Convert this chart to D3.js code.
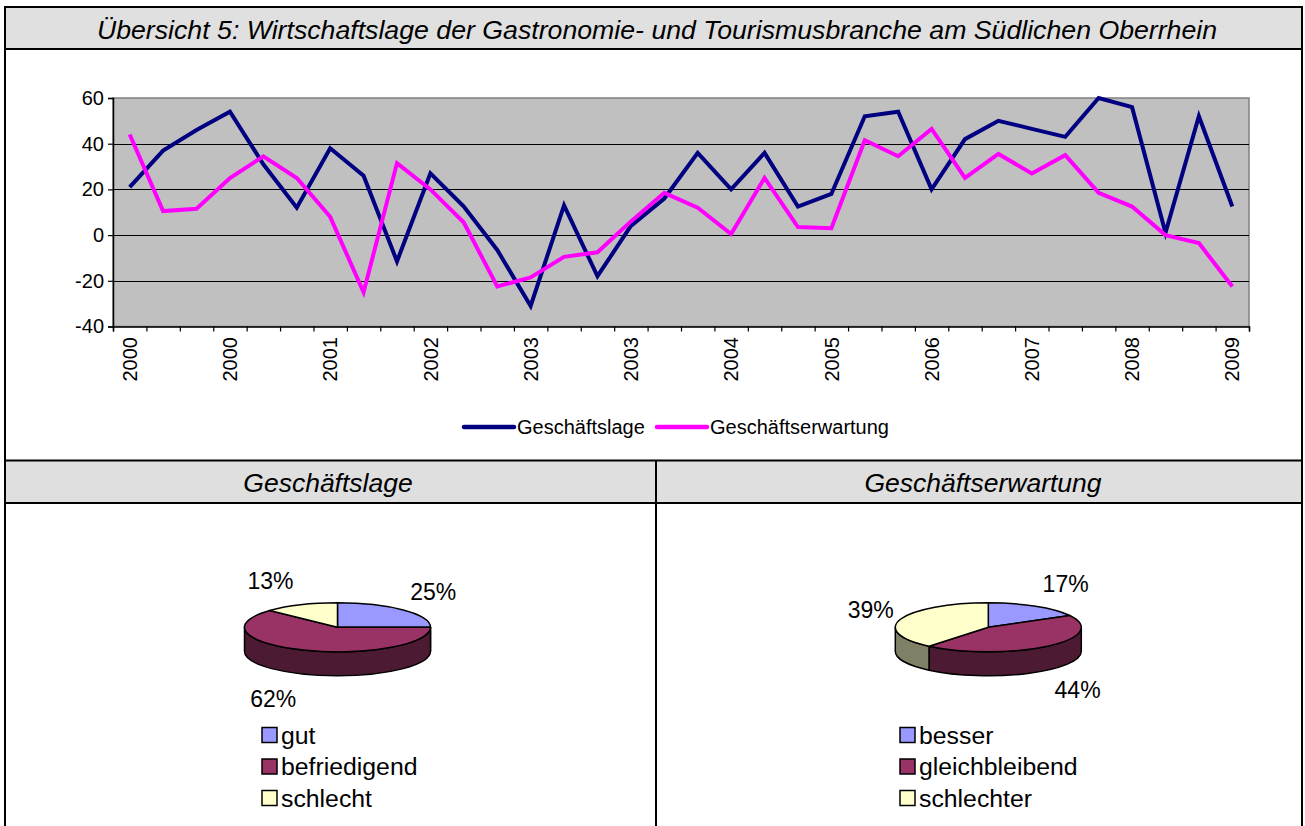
<!DOCTYPE html>
<html><head><meta charset="utf-8">
<script src="https://cdn.jsdelivr.net/npm/d3@7"></script>
<style>body{margin:0;background:#fff}svg{display:block;font-family:"Liberation Sans",Arial,sans-serif}</style>
</head><body><svg id="c" width="1305" height="826"></svg>
<script>
const title = "Übersicht 5: Wirtschaftslage der Gastronomie- und Tourismusbranche am Südlichen Oberrhein";
const categories = ["2000","2000","2000","2000","2000","2001","2001","2001","2002","2002","2002","2003","2003","2003","2003","2003","2004","2004","2004","2005","2005","2005","2006","2006","2006","2007","2007","2007","2008","2008","2008","2009","2009","2009"];
const geschaeftslage = [21,37,46,54,31,12,38,26,-11.5,27,12.5,-6.5,-31,13,-18,4,16,36,20,36,12.5,18,52,54,20,42,50,46.5,43,60,56,1,52,12.5];
const geschaeftserwartung = [44,10.5,11.5,25,34.5,25,8,-25,31.5,20,5.5,-22.5,-18.5,-9.5,-7.5,6,18.5,12,0.5,25,3.5,3,41.5,34.5,46.5,25,35.5,27,35,18.5,12.5,0,-3.5,-22.5];
const yTicks = [-40,-20,0,20,40,60];
const seriesNames = ["Geschäftslage","Geschäftserwartung"];
const seriesColors = ["#000080","#ff00ff"];

const pieTitles = ["Geschäftslage","Geschäftserwartung"];
const lageLabels = ["gut","befriedigend","schlecht"];
const lageValues = [25,62,13];
const erwLabels = ["besser","gleichbleibend","schlechter"];
const erwValues = [17,44,39];
const pieColors = ["#9999ff","#993366","#ffffcc"];
const pieSideColors = ["#4d4d80","#4d1a33","#808066"];

const svg = d3.select("#c");

// frame
svg.append("rect").attr("x",5).attr("y",7).attr("width",1297).attr("height",42).attr("fill","#e0e0e0");
svg.append("rect").attr("x",5).attr("y",460.5).attr("width",1297).attr("height",42.5).attr("fill","#dfdfdf");
const frame = svg.append("g").attr("stroke","#000").attr("stroke-width",2).attr("fill","none");
frame.append("path").attr("d","M5,830V7H1302V830");
frame.append("line").attr("x1",5).attr("x2",1302).attr("y1",49).attr("y2",49);
frame.append("line").attr("x1",5).attr("x2",1302).attr("y1",460.5).attr("y2",460.5);
frame.append("line").attr("x1",5).attr("x2",1302).attr("y1",503).attr("y2",503);
frame.append("line").attr("x1",656).attr("x2",656).attr("y1",460.5).attr("y2",830);

svg.append("text").attr("x",657).attr("y",29).attr("dy","0.36em").attr("text-anchor","middle")
  .attr("font-size",26.7).attr("font-style","italic").attr("fill","#000").text(title);
[328,983].forEach((cx,i)=>{
  svg.append("text").attr("x",cx).attr("y",482).attr("dy","0.36em").attr("text-anchor","middle")
    .attr("font-size",26.5).attr("font-style","italic").text(pieTitles[i]);
});

// line chart
const L=113,R=1249,T=98,B=326.5;
const x = d3.scaleBand().domain(d3.range(categories.length)).range([L,R]).paddingInner(0).paddingOuter(0);
const xb = d3.scaleLinear().domain([0,categories.length]).range([L,R]);
const y = d3.scaleLinear().domain([-40,60]).range([B,T]);

svg.append("rect").attr("x",L).attr("y",T).attr("width",R-L).attr("height",B-T).attr("fill","#c0c0c0").attr("stroke","#808080").attr("stroke-width",1.5);
svg.append("g").selectAll("line").data(yTicks.filter(v=>v>-40&&v<60)).join("line")
  .attr("x1",L).attr("x2",R).attr("y1",d=>Math.round(y(d))+0.5).attr("y2",d=>Math.round(y(d))+0.5).attr("stroke","#000").attr("stroke-width",1);

const ya = svg.append("g").attr("transform",`translate(${L},0)`)
  .call(d3.axisLeft(y).tickValues(yTicks).tickSize(5).tickPadding(4).tickFormat(d=>String(d)));
ya.select(".domain").attr("stroke","#000").attr("stroke-width",1.5);
ya.selectAll(".tick line").attr("stroke","#000").attr("stroke-width",1.2);
ya.selectAll("text").attr("font-size",20).attr("fill","#000").attr("font-family","Liberation Sans, Arial");

const xa = svg.append("g").attr("transform",`translate(0,${B})`)
  .call(d3.axisBottom(xb).tickValues(d3.range(categories.length+1)).tickSize(5).tickFormat(""));
xa.select(".domain").attr("stroke","#000").attr("stroke-width",1.5);
xa.selectAll(".tick line").attr("stroke","#000").attr("stroke-width",1.2);

svg.append("g").selectAll("text").data(categories.map((c,i)=>({c,i})).filter(d=>d.i%3===0)).join("text")
  .attr("transform",d=>`translate(${x(d.i)+x.bandwidth()/2},337) rotate(-90)`)
  .attr("text-anchor","end").attr("dy","0.36em").attr("font-size",20).text(d=>d.c);

const line = d3.line().x((d,i)=>x(i)+x.bandwidth()/2).y(d=>y(d));
[geschaeftslage,geschaeftserwartung].forEach((s,k)=>{
  svg.append("path").attr("d",line(s)).attr("fill","none").attr("stroke",seriesColors[k]).attr("stroke-width",4).attr("stroke-linejoin","miter");
});
// legend
[[464,517],[657,710]].forEach((p,k)=>{
  svg.append("line").attr("x1",p[0]).attr("x2",p[0]+50).attr("y1",427).attr("y2",427).attr("stroke",seriesColors[k]).attr("stroke-width",4.5).attr("stroke-linecap","round");
  svg.append("text").attr("x",p[1]).attr("y",427).attr("dy","0.36em").attr("font-size",20).text(seriesNames[k]);
});

// 3D pies
function drawPie(cx,cy,labels,values,legX){
  const rx=93, ry=24.5, depth=24;
  const arcs = d3.pie().sort(null).value(d=>d)(values);
  const P=(a,dy=0)=>[cx+rx*Math.sin(a), cy-ry*Math.cos(a)+dy];
  const g = svg.append("g").attr("stroke","#000").attr("stroke-width",1.5).attr("stroke-linejoin","round");
  arcs.forEach((a,i)=>{
    const s0=Math.max(a.startAngle,Math.PI/2), s1=Math.min(a.endAngle,3*Math.PI/2);
    if(s0<s1){
      const p0=P(s0),p1=P(s1),q1=P(s1,depth),q0=P(s0,depth);
      g.append("path").attr("fill",pieSideColors[i])
        .attr("d",`M${p0}A${rx},${ry} 0 0 1 ${p1}L${q1}A${rx},${ry} 0 0 0 ${q0}Z`);
    }
  });
  arcs.forEach((a,i)=>{
    const p0=P(a.startAngle),p1=P(a.endAngle);
    const large=(a.endAngle-a.startAngle)>Math.PI?1:0;
    g.append("path").attr("fill",pieColors[i]).attr("d",`M${cx},${cy}L${p0}A${rx},${ry} 0 ${large} 1 ${p1}Z`);
  });
  arcs.forEach((a,i)=>{
    const m=(a.startAngle+a.endAngle)/2, s=Math.sin(m), c=Math.cos(m);
    const lx=cx+rx*s+30*Math.sign(s);
    const ly=cy-(ry+26)*c+(c<0?depth:0);
    svg.append("text").attr("x",lx).attr("y",ly).attr("dy","0.36em").attr("text-anchor","middle")
      .attr("font-size",23).text(Math.round(a.data)+"%");
  });
  labels.forEach((l,i)=>{
    const yy=735+31.5*i;
    svg.append("rect").attr("x",legX).attr("y",yy-7.5).attr("width",15).attr("height",15)
      .attr("fill",pieColors[i]).attr("stroke","#000").attr("stroke-width",1.5);
    svg.append("text").attr("x",legX+19).attr("y",yy).attr("dy","0.36em").attr("font-size",24.8).text(l);
  });
}
drawPie(337.5,627.3,lageLabels,lageValues,262);
drawPie(988.3,627.3,erwLabels,erwValues,900);
</script></body></html>
